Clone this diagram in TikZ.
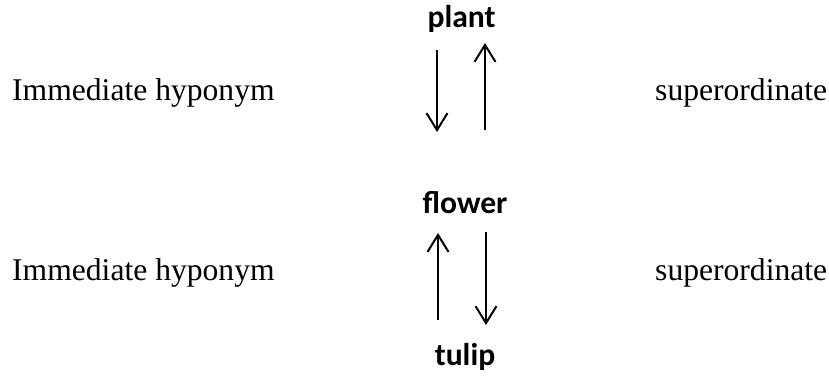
\documentclass[tikz,border=0pt]{standalone}
\usepackage{fontspec}
\setmainfont{Liberation Serif}
\newfontfamily\wordfont{Carlito}
\usetikzlibrary{arrows.meta}
\usetikzlibrary{positioning}

\begin{document}
\begin{tikzpicture}[
  x=1pt, y=-1pt,
  >={Straight Barb[length=17pt,width=21pt,line width=2pt]},
  every node/.style={inner sep=0pt, font=\fontsize{31.6}{38}\selectfont},
  term/.style={anchor=base, font=\fontsize{31.6}{38}\selectfont\wordfont\bfseries},
  relation/.style={anchor=base west},
  link/.style={line width=2pt}
]
\useasboundingbox (0,0) rectangle (829,376);

\node [term] (plant) at (461.5,27) {plant};
\node [term] (flower) at (465,213) {flower};
\node [term] (tulip) at (465,365) {tulip};

\node [relation] (hypoA) at (12,100) {Immediate hyponym};
\node [relation] (superA) at (655,100) {superordinate};
\node [relation] (hypoB) at (12,280) {Immediate hyponym};
\node [relation] (superB) at (655,280) {superordinate};

% arrow ends
\coordinate (downA) at (437,50);
\coordinate (downAend) at (437,132);
\coordinate (upA) at (485,130);
\coordinate (upAend) at (485,43);
\coordinate (upB) at (438,320);
\coordinate (upBend) at (438,233);
\coordinate (downB) at (486,232);
\coordinate (downBend) at (486,325);

\draw [link, ->] (downA) -- (downAend);
\draw [link, ->] (upA) -- (upAend);
\draw [link, ->] (upB) -- (upBend);
\draw [link, ->] (downB) -- (downBend);
\end{tikzpicture}
\end{document}
